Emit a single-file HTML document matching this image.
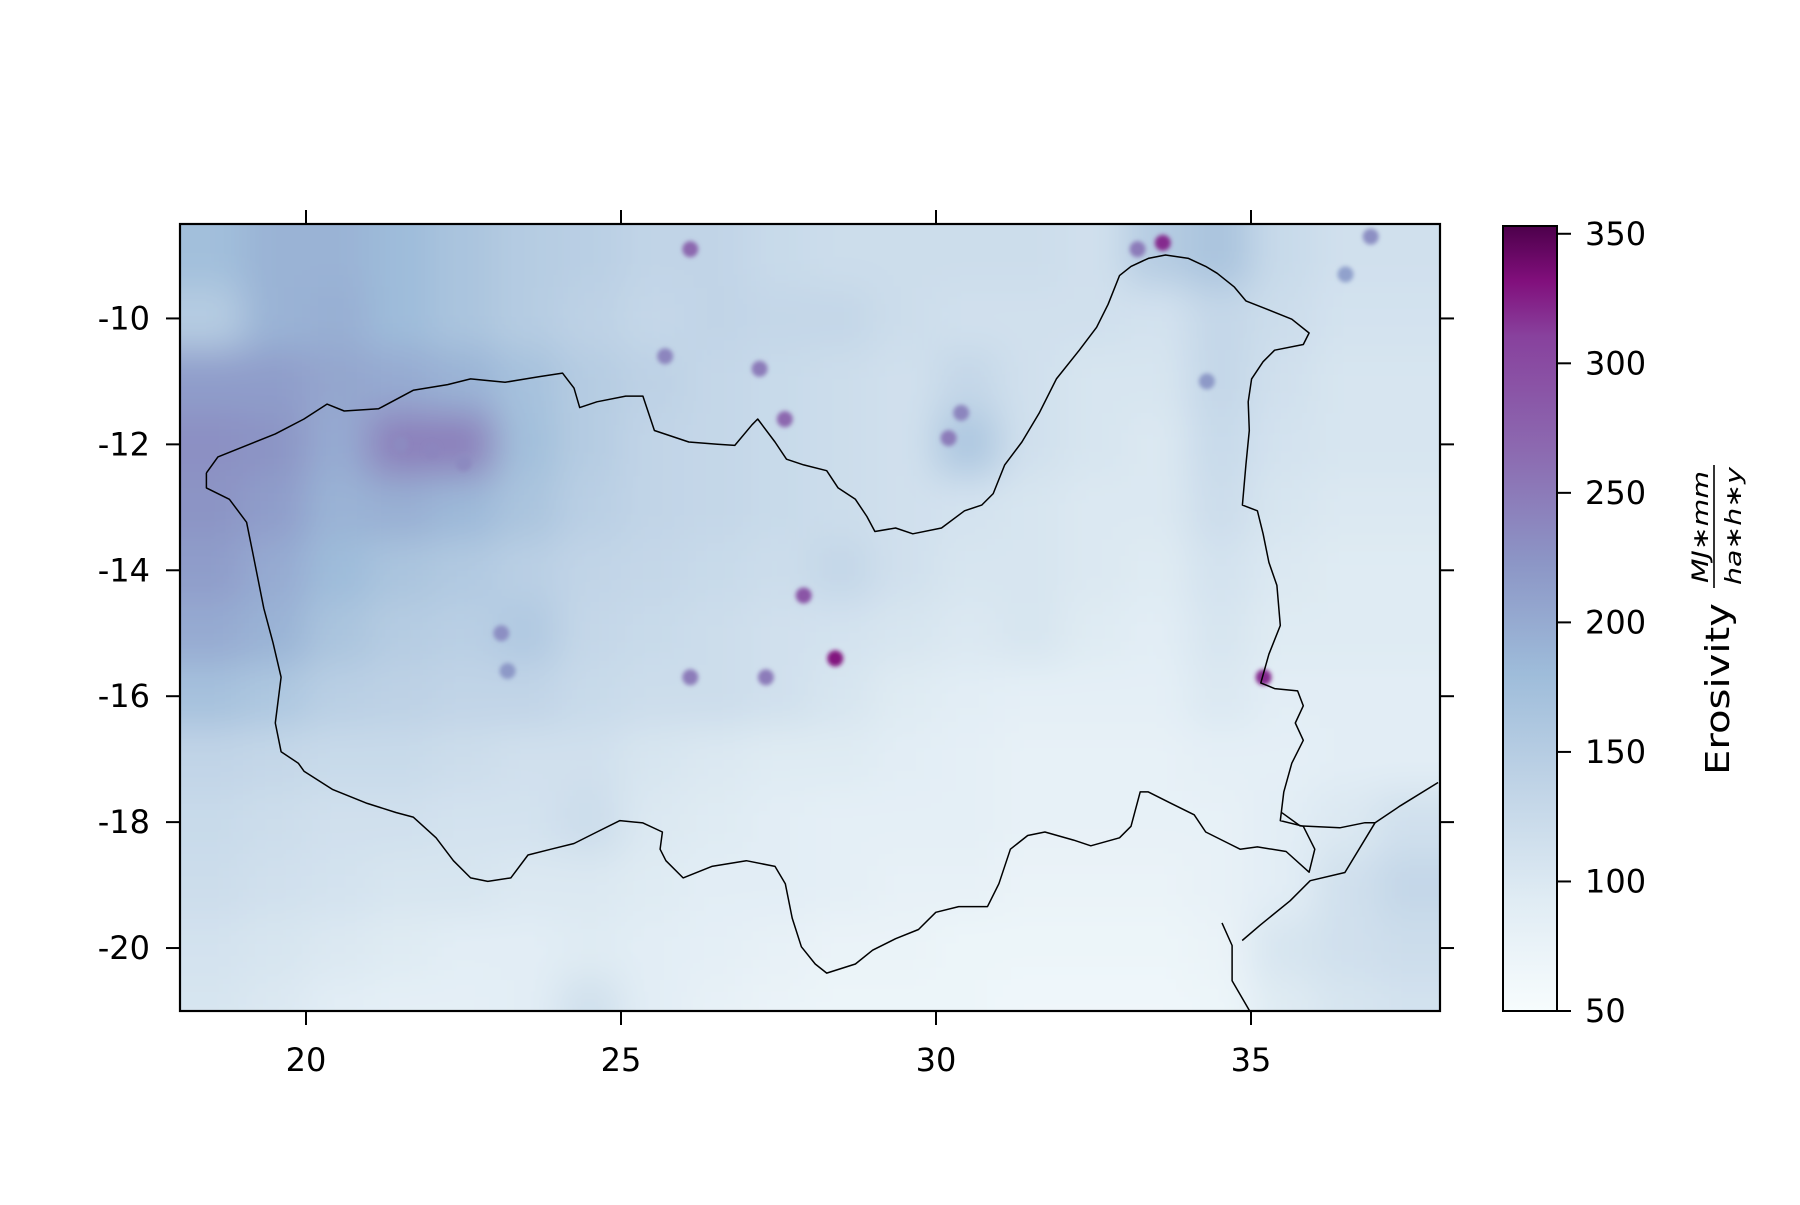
<!DOCTYPE html>
<html><head><meta charset="utf-8"><style>
html,body{margin:0;padding:0;background:#fff}
svg text{font-family:"DejaVu Sans","Liberation Sans",sans-serif;fill:#000}
</style></head><body>
<svg id="chart" width="1800" height="1200" viewBox="0 0 1800 1200" xmlns="http://www.w3.org/2000/svg">
<defs>
<clipPath id="plotclip"><rect x="180" y="224" width="1260" height="787"/></clipPath>
<filter id="blur" x="-10%" y="-10%" width="120%" height="120%"><feGaussianBlur stdDeviation="18"/></filter>
<filter id="blur2" x="-100%" y="-100%" width="300%" height="300%"><feGaussianBlur stdDeviation="2"/></filter>
<linearGradient id="cbgrad" x1="0" y1="1" x2="0" y2="0">
<stop offset="0" stop-color="#f7fcfd"/><stop offset="0.14" stop-color="#e0ecf4"/>
<stop offset="0.29" stop-color="#bfd3e6"/><stop offset="0.43" stop-color="#9ebcda"/>
<stop offset="0.57" stop-color="#8c96c6"/><stop offset="0.71" stop-color="#8c6bb1"/>
<stop offset="0.86" stop-color="#88419d"/><stop offset="0.93" stop-color="#810f7c"/>
<stop offset="1" stop-color="#4d004b"/></linearGradient>
</defs>
<g id="plot" clip-path="url(#plotclip)">
<rect x="180" y="224" width="1260" height="787" fill="#d4e0ee"/>
<g id="grid" filter="url(#blur)"></g>
<g id="spots"></g>
<g id="borders"></g>
</g>
<rect x="180" y="224" width="1260" height="787" fill="none" stroke="#000" stroke-width="2.2"/>
<g id="axes"></g>
<g id="colorbar">
<rect x="1503" y="226" width="54" height="785" fill="url(#cbgrad)" stroke="#000" stroke-width="2"/>
</g>
<g transform="translate(1729,620) rotate(-90)">
<text x="-155" y="0" font-size="33" textLength="172" lengthAdjust="spacingAndGlyphs">Erosivity</text>
<text x="37" y="-21" font-size="22" font-style="italic" textLength="112" lengthAdjust="spacingAndGlyphs">MJ∗mm</text>
<line x1="32" y1="-15" x2="155" y2="-15" stroke="#000" stroke-width="1.6"/>
<text x="35" y="12" font-size="22" font-style="italic" textLength="118" lengthAdjust="spacingAndGlyphs">ha∗h∗y</text>
</g>
</svg>
<script>
const lonMin = 18, lonMax = 38, latMax = -8.5, latMin = -21;
const vMin = 50, vMax = 353;
const xTicks = [20, 25, 30, 35];
const yTicks = [-10, -12, -14, -16, -18, -20];
const cbTicks = [50, 100, 150, 200, 250, 300, 350];
const gridLonStart = 18;
const gridLatStart = -8.5;
const gridValues = [
[175,190,190,180,165,150,145,135,135,125,120,120,120,120,115,150,165,125,115,115],
[150,190,195,180,165,150,140,130,135,130,130,120,115,115,115,110,130,120,110,110],
[215,215,205,200,190,170,150,140,130,125,120,115,130,115,105,105,130,115,105,105],
[230,225,200,245,245,175,150,135,130,125,120,115,160,115,105,100,125,110,105,105],
[225,215,190,195,185,165,145,135,130,125,120,115,110,105,100,100,120,105,100,100],
[215,200,180,165,155,145,135,130,125,120,130,115,105,105,100,95,110,100,95,95],
[200,190,165,150,145,155,130,125,120,115,110,105,100,105,95,90,105,95,95,95],
[170,160,145,140,135,135,125,120,120,115,105,95,90,85,85,85,100,90,90,90],
[135,130,125,125,120,115,115,105,100,95,95,90,85,80,80,80,85,85,90,90],
[125,120,115,115,110,110,120,100,95,90,85,85,85,80,80,80,80,90,100,115],
[120,115,110,105,105,100,100,95,90,90,85,80,80,75,75,75,80,90,115,130],
[110,105,100,95,90,90,95,90,85,80,75,75,70,70,70,70,75,105,115,120],
[105,100,90,85,85,90,115,90,80,75,70,70,70,65,65,65,70,95,105,110]
];
const spotLon = [28.4,27.9,26.1,27.3,23.1,23.2,35.2,33.6,26.1,30.2,30.4,25.7,36.9,36.5,27.6,27.2,22.0,21.5,22.5,33.2,34.3];
const spotLat = [-15.4,-14.4,-15.7,-15.7,-15.0,-15.6,-15.7,-8.8,-8.9,-11.9,-11.5,-10.6,-8.7,-9.3,-11.6,-10.8,-12.1,-12.0,-12.3,-8.9,-11.0];
const spotVal = [330,290,250,250,230,220,320,320,270,250,240,240,230,210,270,250,240,235,235,250,220];
const borderTrace = [180,412,190,398,215,388,240,378,265,365,285,352,300,358,330,356,360,340,390,335,410,330,440,333,470,328,490,325,500,338,505,355,520,350,545,345,560,345,570,375,600,385,625,387,640,388,655,370,660,365,675,385,685,400,700,405,720,410,730,425,745,435,755,450,762,463,780,460,795,465,820,460,840,445,855,440,865,430,875,405,890,385,905,360,920,330,940,305,955,285,965,265,975,240,985,232,1000,225,1015,222,1035,225,1050,232,1060,238,1075,250,1085,262,1100,268,1125,278,1140,290,1135,300,1110,305,1100,315,1090,330,1087,350,1088,375,1085,405,1082,440,1095,445,1100,465,1105,490,1112,510,1115,545,1105,570,1098,595,1110,600,1130,602,1135,615,1128,630,1135,645,1125,665,1118,690,1115,715,1135,720,1145,740,1140,760,1120,742,1095,738,1080,740,1070,735,1050,725,1040,710,1020,700,1000,690,993,690,985,720,975,730,950,737,935,732,910,725,895,728,880,740,870,770,860,790,835,790,815,795,800,810,780,818,760,828,745,840,720,848,710,840,698,825,690,800,684,770,675,755,650,750,620,755,595,765,580,750,575,740,577,725,560,717,540,715,520,725,500,735,480,740,460,745,445,765,425,768,410,765,395,750,380,730,360,712,345,708,320,700,290,688,265,672,260,665,245,655,240,630,245,590,238,560,230,530,225,505,220,480,215,455,200,435,180,425,180,412];
const coastLon = [37.97,37.37,36.97,36.49,35.94,35.62,35.14,34.86];
const coastLat = [-17.37,-17.74,-18.01,-18.80,-18.93,-19.25,-19.64,-19.88];
const riverLon = [34.54,34.70,34.70,34.98];
const riverLat = [-19.60,-19.96,-20.52,-21.0];
const line2Lon = [35.49,35.78,36.41,36.81,36.97];
const line2Lat = [-17.85,-18.06,-18.09,-18.01,-18.01];

const X = lon => 180 + (lon - lonMin) / (lonMax - lonMin) * 1260;
const Y = lat => 224 + (latMax - lat) / (latMax - latMin) * 787;
const CB = v => 1011 - (v - 50) / (vMax - 50) * 785;
const traceToLon = t => 18 + (t - 157) / 54.85;
const traceToLat = t => -8.5 - (t - 195) / 54.88;

const stops = [[50,[247,252,253]],[93,[224,236,244]],[137,[191,211,230]],[180,[158,188,218]],[223,[140,150,198]],[266,[140,107,177]],[310,[136,65,157]],[332,[129,15,124]],[353,[77,0,75]]];
function color(v){
  v=Math.max(vMin,Math.min(vMax,v));
  for(let i=0;i<stops.length-1;i++){
    const [a,ca]=stops[i],[b,cb]=stops[i+1];
    if(v<=b){const t=(v-a)/(b-a);return 'rgb('+ca.map((c,k)=>Math.round(c+(cb[k]-c)*t)).join(',')+')';}
  }
  return 'rgb(77,0,75)';
}
const NS='http://www.w3.org/2000/svg';
function mk(tag,attrs,parent){const e=document.createElementNS(NS,tag);for(const k in attrs)e.setAttribute(k,attrs[k]);parent.appendChild(e);return e;}

const grid=document.getElementById('grid');
gridValues.forEach((row,r)=>{
  row.forEach((v,c)=>{
    let x0=X(gridLonStart+c), x1=X(gridLonStart+c+1);
    let y0=Y(gridLatStart-r), y1=Y(gridLatStart-r-1);
    if(c===0)x0-=80; if(c===row.length-1)x1+=80;
    if(r===0)y0-=80; if(r===gridValues.length-1)y1+=80;
    const e=mk('rect',{x:x0,y:y0,width:x1-x0+0.5,height:y1-y0+0.5,fill:color(v)},grid);
    
    
  });
});
const spots=document.getElementById('spots');
spotVal.forEach((v,i)=>{
  const e=mk('circle',{cx:X(spotLon[i]),cy:Y(spotLat[i]),r:8,fill:color(v),filter:'url(#blur2)'},spots);
  
  
});
const borders=document.getElementById('borders');
function poly(lons,lats,name){
  const pts=lons.map((l,i)=>X(l).toFixed(1)+','+Y(lats[i]).toFixed(1)).join(' ');
  const e=mk('polyline',{points:pts,fill:'none',stroke:'#000','stroke-width':1.5,'stroke-linejoin':'round'},borders);
  
  
}
const bLon=[],bLat=[];
for(let i=0;i<borderTrace.length;i+=2){bLon.push(traceToLon(borderTrace[i]));bLat.push(traceToLat(borderTrace[i+1]));}
poly(bLon,bLat,'basin-boundary');
poly(coastLon,coastLat,'coastline');
poly(riverLon,riverLat,'border-line-south');
poly(line2Lon,line2Lat,'border-line-east');

const axes=document.getElementById('axes');
xTicks.forEach(t=>{
  const x=X(t);
  const b=mk('line',{x1:x,y1:1011,x2:x,y2:1025,stroke:'#000','stroke-width':2},axes);
  
  
  const tp=mk('line',{x1:x,y1:224,x2:x,y2:210,stroke:'#000','stroke-width':2},axes);
  
  
  const tx=mk('text',{x:x,y:1071,'font-size':32,'text-anchor':'middle'},axes);
  tx.textContent=t;
  
  
});
yTicks.forEach(t=>{
  const y=Y(t);
  const l=mk('line',{x1:166,y1:y,x2:180,y2:y,stroke:'#000','stroke-width':2},axes);
  
  
  const r=mk('line',{x1:1440,y1:y,x2:1454,y2:y,stroke:'#000','stroke-width':2},axes);
  
  
  const tx=mk('text',{x:150,y:y+11,'font-size':32,'text-anchor':'end'},axes);
  tx.textContent=t;
  
  
});
const cb=document.getElementById('colorbar');
cbTicks.forEach(t=>{
  const y=CB(t);
  const l=mk('line',{x1:1557,y1:y,x2:1571,y2:y,stroke:'#000','stroke-width':2},cb);
  
  
  const tx=mk('text',{x:1585,y:y+11,'font-size':32},cb);
  tx.textContent=t;
  
  
});
</script>
</body></html>
